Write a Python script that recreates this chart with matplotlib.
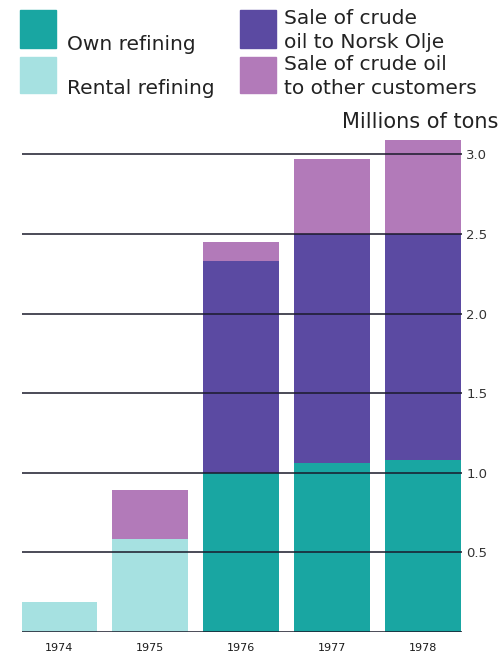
import matplotlib
matplotlib.use("Agg")
import matplotlib.pyplot as plt
from matplotlib.patches import Rectangle
import numpy as np

years = ["1974", "1975", "1976", "1977", "1978"]
own_refining = [0.0, 0.0, 1.00, 1.06, 1.08]
rental_refining = [0.19, 0.585, 0.0, 0.0, 0.0]
sale_norsk_olje = [0.0, 0.0, 1.33, 1.44, 1.42]
sale_other = [0.0, 0.305, 0.12, 0.47, 0.59]
yticks = [0.5, 1.0, 1.5, 2.0, 2.5, 3.0]
ytick_labels = ["0.5", "1.0", "1.5", "2.0", "2.5", "3.0"]

c_own = "#19a6a2"
c_rental = "#a6e1e1"
c_norsk = "#5b4aa2"
c_other = "#b27ab9"

W, H = 499, 655
plt.rcParams['font.family'] = ['DejaVu Sans']
fig = plt.figure(figsize=(W / 100, H / 100), dpi=100)

def fx(px):
    return px / W

def fy(py):
    return 1 - py / H

ax_left, ax_right = 22, 462
ax_bottom, ax_top = 632, 138.5
ax = fig.add_axes([fx(ax_left), fy(ax_bottom), fx(ax_right - ax_left), (ax_bottom - ax_top) / H])

x = np.arange(len(years))
w = 0.837
own = np.array(own_refining)
ren = np.array(rental_refining)
nor = np.array(sale_norsk_olje)
oth = np.array(sale_other)
ax.bar(x, own, w, color=c_own, zorder=2)
ax.bar(x, ren, w, bottom=own, color=c_rental, zorder=2)
ax.bar(x, nor, w, bottom=own + ren, color=c_norsk, zorder=2)
ax.bar(x, oth, w, bottom=own + ren + nor, color=c_other, zorder=2)

ax.set_xlim(-0.413, 4.435)
ax.set_ylim(0, 3.1)
for yv in [0.0] + yticks:
    ax.axhline(yv, color="#1a1a2a", lw=1.1, zorder=3)
for s in ax.spines.values():
    s.set_visible(False)
ax.set_xticks(x)
ax.set_xticklabels(years, fontsize=8, color="#1a1a1a")
ax.tick_params(axis="x", length=0, pad=8)
ax.yaxis.tick_right()
ax.set_yticks(yticks)
ax.set_yticklabels(ytick_labels, fontsize=9.5, color="#333333")
ax.tick_params(axis="y", length=0, pad=3)

# legend
def square(x0, y0, x1, y1, c):
    fig.add_artist(Rectangle((fx(x0), fy(y1)), fx(x1 - x0), (y1 - y0) / H,
                             transform=fig.transFigure, color=c))

square(20, 10, 56, 48, c_own)
square(20, 57, 56, 93, c_rental)
square(240, 10, 276, 48, c_norsk)
square(240, 57, 276, 93, c_other)

fs = 14.5
tc = "#222222"
fig.text(fx(67), fy(44), "Own refining", fontsize=fs, va="center", ha="left", color=tc)
fig.text(fx(67), fy(88), "Rental refining", fontsize=fs, va="center", ha="left", color=tc)
fig.text(fx(284), fy(19), "Sale of crude", fontsize=fs, va="center", ha="left", color=tc)
fig.text(fx(284), fy(42), "oil to Norsk Olje", fontsize=fs, va="center", ha="left", color=tc)
fig.text(fx(284), fy(65), "Sale of crude oil", fontsize=fs, va="center", ha="left", color=tc)
fig.text(fx(284), fy(88), "to other customers", fontsize=fs, va="center", ha="left", color=tc)
fig.text(fx(498), fy(122), "Millions of tons", fontsize=15, va="center", ha="right", color=tc)

fig.savefig("out.png", dpi=100)
